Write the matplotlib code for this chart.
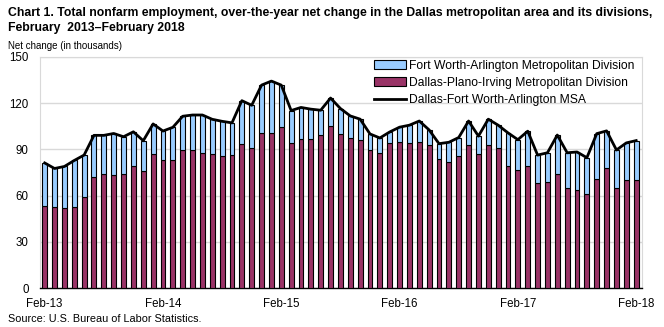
import matplotlib.pyplot as plt
import numpy as np

# over-the-year net change, thousands, Feb-13 .. Feb-18
msa = [81.2, 77.6, 78.9, 82.8, 86.3, 99.1, 99.1, 100.3, 98.2, 101.4, 95.6, 106.5,
       101.9, 104.3, 111.5, 112.3, 112.3, 109.5, 108.2, 107.2, 121.6, 118.6, 131.7, 134.3,
       131.7, 115.2, 117.2, 116.1, 115.4, 123.3, 116.5, 111.7, 109.6, 100.0, 97.4, 101.3,
       104.4, 105.7, 108.4, 102.6, 93.7, 94.6, 97.7, 108.4, 98.6, 109.6, 105.7, 100.7,
       96.3, 101.8, 86.3, 87.8, 99.3, 87.8, 88.3, 84.6, 100.2, 102.0, 89.6, 94.2, 95.7]
dallas = [53.3, 52.6, 52.0, 52.6, 59.1, 72.2, 74.1, 73.5, 74.1, 79.3, 76.1, 87.2,
          82.8, 82.8, 89.9, 89.9, 87.9, 87.3, 86.0, 86.6, 93.8, 91.1, 100.9, 100.9,
          104.4, 94.3, 97.0, 97.0, 99.6, 105.4, 100.2, 97.6, 96.3, 89.8, 87.8, 94.3,
          95.0, 94.3, 94.5, 92.7, 83.5, 82.0, 85.4, 92.7, 86.7, 92.7, 91.1, 79.5,
          76.9, 78.9, 68.5, 69.1, 74.3, 65.2, 63.9, 61.3, 71.1, 77.6, 65.2, 70.4, 70.4]
fort_worth = [m - d for m, d in zip(msa, dallas)]
tick_labels = ['Feb-13', 'Feb-14', 'Feb-15', 'Feb-16', 'Feb-17', 'Feb-18']

plt.rcParams['font.family'] = ['Liberation Sans', 'DejaVu Sans']

fig = plt.figure(figsize=(6.64, 3.27), dpi=100)
ax = fig.add_axes([0.060, 0.119, 0.907, 0.707])

x = np.arange(len(msa))
b_dal = ax.bar(x, dallas, width=0.5, color='#993366', edgecolor='black', linewidth=0.8, zorder=3)
b_fw = ax.bar(x, fort_worth, bottom=dallas, width=0.5, color='#99CCFF', edgecolor='black',
              linewidth=0.8, zorder=3)
ln, = ax.plot(x, msa, color='black', linewidth=2, zorder=4)

ax.set_xlim(-0.49, 60.6)
ax.set_ylim(0, 150)
ax.set_yticks(range(0, 151, 30))
ax.set_xticks(range(0, 61, 12))
ax.set_xticklabels(tick_labels)
ax.tick_params(axis='both', length=0, labelsize=8.3)
ax.tick_params(axis='x', pad=7)
ax.tick_params(axis='y', pad=8)
ax.yaxis.grid(True, color='#D9D9D9', linewidth=1, zorder=0)
ax.set_axisbelow(True)
for s in ['left', 'right', 'top']:
    ax.spines[s].set_color('#D9D9D9')
ax.spines['bottom'].set_color('black')
ax.spines['bottom'].set_linewidth(1)

ax.legend([b_fw, b_dal, ln],
          ['Fort Worth-Arlington Metropolitan Division',
           'Dallas-Plano-Irving Metropolitan Division',
           'Dallas-Fort Worth-Arlington MSA'],
          loc='upper right', bbox_to_anchor=(1.0, 1.02), frameon=False, fontsize=8.7,
          handlelength=2.6, handleheight=0.8, labelspacing=0.45, handletextpad=0.3,
          borderaxespad=0.2)

fig.text(0.012, 0.978, 'Chart 1. Total nonfarm employment, over-the-year net change in the Dallas metropolitan area and its divisions,\nFebruary  2013\u2013February 2018',
         fontsize=8.8, fontweight='bold', va='top', ha='left', linespacing=1.3)
fig.text(0.012, 0.845, 'Net change (in thousands)', fontsize=7, va='bottom', ha='left')
fig.text(0.012, 0.008, 'Source: U.S. Bureau of Labor Statistics.', fontsize=7.8, va='bottom', ha='left')

fig.savefig('out.png', dpi=100)
